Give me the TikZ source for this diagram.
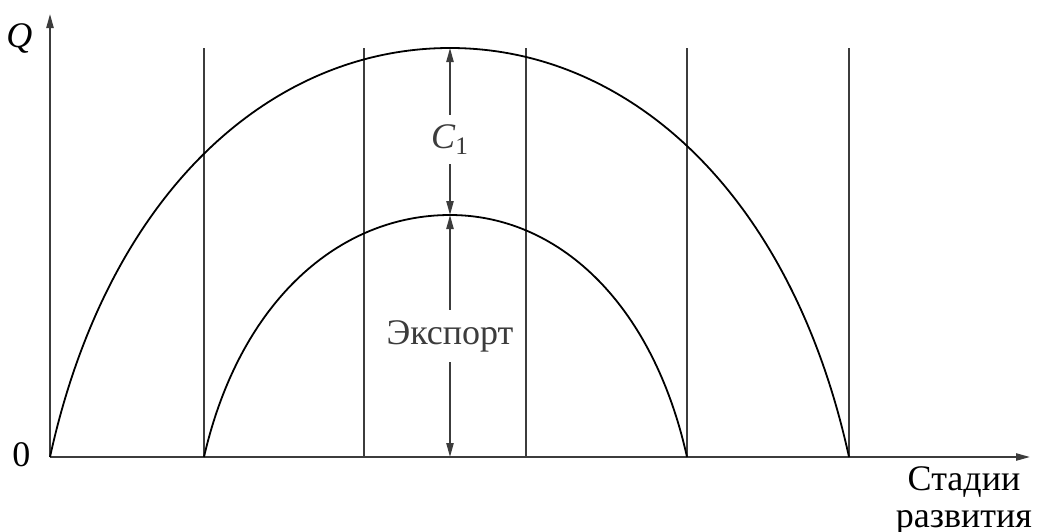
\documentclass[tikz,border=0pt]{standalone}
\usepackage{fontspec}
\setmainfont{Liberation Serif}
\usepackage{tikz}
\usetikzlibrary{arrows.meta}
\definecolor{axisgray}{RGB}{60,60,60}

\begin{document}
\begin{tikzpicture}[x=0.5pt, y=-0.5pt, line width=0.9pt,
    every node/.style={font=\fontsize{18}{22}\selectfont},
    tip/.style={-{Triangle[length=7pt,width=3.6pt]}}]
  \useasboundingbox (0,0) rectangle (1040,531);
  % axes
  \draw[tip, axisgray] (50,457) -- (1030,457);
  \draw[tip, axisgray] (50,457) -- (50,14);
  \node[anchor=east] (q) at (40,38) {\textit{Q}};
  \node[anchor=east] (zero) at (38,455) {0};
  \node[anchor=north, align=center, inner sep=0pt, font=\fontsize{18}{18.5}\selectfont]
    (stages) at (964,466) {Стадии\\развития};
  % stage borders
  \foreach \x in {204,364,526,687,849}
    \draw[axisgray] (\x,48) -- (\x,457);
  % curves
  \draw (50,457) .. controls (108,192) and (271,48) .. (450,48)
                 .. controls (628,48) and (791,192) .. (849,457);
  \draw (204,457) .. controls (240,300) and (340,215) .. (450,215)
                  .. controls (556,215) and (652,300) .. (687,457);
  % measures
  \coordinate (peak) at (450,48);
  \coordinate (inner) at (450,215);
  \coordinate (foot) at (450,457);
  \draw[{Triangle[length=7pt,width=3.6pt]}-{Triangle[length=7pt,width=3.6pt]}, axisgray]
    (peak) -- node[fill=white, inner sep=5pt, yshift=-4pt] (c1) {\textit{C}\textsubscript{1}} (inner);
  \draw[{Triangle[length=7pt,width=3.6pt]}-{Triangle[length=7pt,width=3.6pt]}, axisgray]
    (inner) -- node[fill=white, inner sep=5pt] (export) {Экспорт} (foot);
\end{tikzpicture}
\end{document}
